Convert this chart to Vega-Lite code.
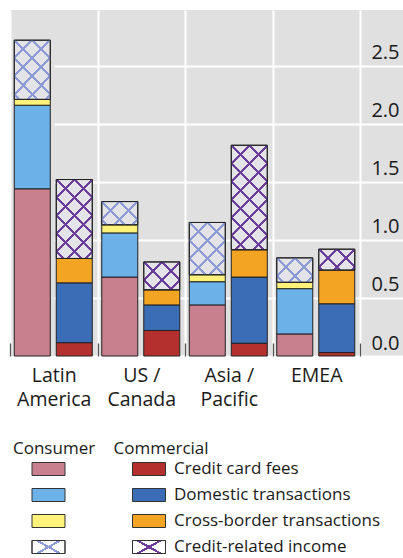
{
  "$schema": "https://vega.github.io/schema/vega-lite/v6.json",
  "padding": {"top": 10, "left": 9, "right": 0, "bottom": 2},
  "config": {"font": "Open Sans", "view": {"stroke": null}},
  "params": [
    {"name": "hatchLight", "value": [
      {"offset": 0, "color": "#8c9ad6"}, {"offset": 0.01, "color": "#8c9ad6"}, {"offset": 0.01, "color": "rgba(0,0,0,0)"},
      {"offset": 0.11, "color": "rgba(0,0,0,0)"}, {"offset": 0.11, "color": "#8c9ad6"}, {"offset": 0.13, "color": "#8c9ad6"}, {"offset": 0.13, "color": "rgba(0,0,0,0)"},
      {"offset": 0.23, "color": "rgba(0,0,0,0)"}, {"offset": 0.23, "color": "#8c9ad6"}, {"offset": 0.25, "color": "#8c9ad6"}, {"offset": 0.25, "color": "rgba(0,0,0,0)"},
      {"offset": 0.35, "color": "rgba(0,0,0,0)"}, {"offset": 0.35, "color": "#8c9ad6"}, {"offset": 0.37, "color": "#8c9ad6"}, {"offset": 0.37, "color": "rgba(0,0,0,0)"},
      {"offset": 0.47, "color": "rgba(0,0,0,0)"}, {"offset": 0.47, "color": "#8c9ad6"}, {"offset": 0.49, "color": "#8c9ad6"}, {"offset": 0.49, "color": "rgba(0,0,0,0)"},
      {"offset": 0.59, "color": "rgba(0,0,0,0)"}, {"offset": 0.59, "color": "#8c9ad6"}, {"offset": 0.61, "color": "#8c9ad6"}, {"offset": 0.61, "color": "rgba(0,0,0,0)"},
      {"offset": 0.71, "color": "rgba(0,0,0,0)"}, {"offset": 0.71, "color": "#8c9ad6"}, {"offset": 0.73, "color": "#8c9ad6"}, {"offset": 0.73, "color": "rgba(0,0,0,0)"},
      {"offset": 0.83, "color": "rgba(0,0,0,0)"}, {"offset": 0.83, "color": "#8c9ad6"}, {"offset": 0.85, "color": "#8c9ad6"}, {"offset": 0.85, "color": "rgba(0,0,0,0)"},
      {"offset": 0.95, "color": "rgba(0,0,0,0)"}, {"offset": 0.95, "color": "#8c9ad6"}, {"offset": 0.97, "color": "#8c9ad6"}, {"offset": 0.97, "color": "rgba(0,0,0,0)"},
      {"offset": 1, "color": "rgba(0,0,0,0)"}
    ]},
    {"name": "hatchDark", "value": [
      {"offset": 0, "color": "#6a3d9a"}, {"offset": 0.01, "color": "#6a3d9a"}, {"offset": 0.01, "color": "rgba(0,0,0,0)"},
      {"offset": 0.11, "color": "rgba(0,0,0,0)"}, {"offset": 0.11, "color": "#6a3d9a"}, {"offset": 0.13, "color": "#6a3d9a"}, {"offset": 0.13, "color": "rgba(0,0,0,0)"},
      {"offset": 0.23, "color": "rgba(0,0,0,0)"}, {"offset": 0.23, "color": "#6a3d9a"}, {"offset": 0.25, "color": "#6a3d9a"}, {"offset": 0.25, "color": "rgba(0,0,0,0)"},
      {"offset": 0.35, "color": "rgba(0,0,0,0)"}, {"offset": 0.35, "color": "#6a3d9a"}, {"offset": 0.37, "color": "#6a3d9a"}, {"offset": 0.37, "color": "rgba(0,0,0,0)"},
      {"offset": 0.47, "color": "rgba(0,0,0,0)"}, {"offset": 0.47, "color": "#6a3d9a"}, {"offset": 0.49, "color": "#6a3d9a"}, {"offset": 0.49, "color": "rgba(0,0,0,0)"},
      {"offset": 0.59, "color": "rgba(0,0,0,0)"}, {"offset": 0.59, "color": "#6a3d9a"}, {"offset": 0.61, "color": "#6a3d9a"}, {"offset": 0.61, "color": "rgba(0,0,0,0)"},
      {"offset": 0.71, "color": "rgba(0,0,0,0)"}, {"offset": 0.71, "color": "#6a3d9a"}, {"offset": 0.73, "color": "#6a3d9a"}, {"offset": 0.73, "color": "rgba(0,0,0,0)"},
      {"offset": 0.83, "color": "rgba(0,0,0,0)"}, {"offset": 0.83, "color": "#6a3d9a"}, {"offset": 0.85, "color": "#6a3d9a"}, {"offset": 0.85, "color": "rgba(0,0,0,0)"},
      {"offset": 0.95, "color": "rgba(0,0,0,0)"}, {"offset": 0.95, "color": "#6a3d9a"}, {"offset": 0.97, "color": "#6a3d9a"}, {"offset": 0.97, "color": "rgba(0,0,0,0)"},
      {"offset": 1, "color": "rgba(0,0,0,0)"}
    ]},
    {"name": "crossLight", "value": [
      {"offset": 0, "color": "rgba(0,0,0,0)"}, {"offset": 0.527, "color": "rgba(0,0,0,0)"},
      {"offset": 0.527, "color": "#8c9ad6"}, {"offset": 0.615, "color": "#8c9ad6"},
      {"offset": 0.615, "color": "rgba(0,0,0,0)"}, {"offset": 1, "color": "rgba(0,0,0,0)"}
    ]},
    {"name": "crossDark", "value": [
      {"offset": 0, "color": "rgba(0,0,0,0)"}, {"offset": 0.527, "color": "rgba(0,0,0,0)"},
      {"offset": 0.527, "color": "#6a3d9a"}, {"offset": 0.615, "color": "#6a3d9a"},
      {"offset": 0.615, "color": "rgba(0,0,0,0)"}, {"offset": 1, "color": "rgba(0,0,0,0)"}
    ]}
  ],
  "datasets": {
    "fees": [
      {"region": "Latin America", "segment": "Consumer", "type": "Credit card fees", "value": 1.44},
      {"region": "Latin America", "segment": "Consumer", "type": "Domestic transactions", "value": 0.72},
      {"region": "Latin America", "segment": "Consumer", "type": "Cross-border transactions", "value": 0.05},
      {"region": "Latin America", "segment": "Consumer", "type": "Credit-related income", "value": 0.51},
      {"region": "Latin America", "segment": "Commercial", "type": "Credit card fees", "value": 0.115},
      {"region": "Latin America", "segment": "Commercial", "type": "Domestic transactions", "value": 0.515},
      {"region": "Latin America", "segment": "Commercial", "type": "Cross-border transactions", "value": 0.21},
      {"region": "Latin America", "segment": "Commercial", "type": "Credit-related income", "value": 0.68},
      {"region": "US / Canada", "segment": "Consumer", "type": "Credit card fees", "value": 0.68},
      {"region": "US / Canada", "segment": "Consumer", "type": "Domestic transactions", "value": 0.38},
      {"region": "US / Canada", "segment": "Consumer", "type": "Cross-border transactions", "value": 0.07},
      {"region": "US / Canada", "segment": "Consumer", "type": "Credit-related income", "value": 0.2},
      {"region": "US / Canada", "segment": "Commercial", "type": "Credit card fees", "value": 0.22},
      {"region": "US / Canada", "segment": "Commercial", "type": "Domestic transactions", "value": 0.22},
      {"region": "US / Canada", "segment": "Commercial", "type": "Cross-border transactions", "value": 0.13},
      {"region": "US / Canada", "segment": "Commercial", "type": "Credit-related income", "value": 0.24},
      {"region": "Asia / Pacific", "segment": "Consumer", "type": "Credit card fees", "value": 0.44},
      {"region": "Asia / Pacific", "segment": "Consumer", "type": "Domestic transactions", "value": 0.2},
      {"region": "Asia / Pacific", "segment": "Consumer", "type": "Cross-border transactions", "value": 0.06},
      {"region": "Asia / Pacific", "segment": "Consumer", "type": "Credit-related income", "value": 0.45},
      {"region": "Asia / Pacific", "segment": "Commercial", "type": "Credit card fees", "value": 0.11},
      {"region": "Asia / Pacific", "segment": "Commercial", "type": "Domestic transactions", "value": 0.57},
      {"region": "Asia / Pacific", "segment": "Commercial", "type": "Cross-border transactions", "value": 0.235},
      {"region": "Asia / Pacific", "segment": "Commercial", "type": "Credit-related income", "value": 0.9},
      {"region": "EMEA", "segment": "Consumer", "type": "Credit card fees", "value": 0.19},
      {"region": "EMEA", "segment": "Consumer", "type": "Domestic transactions", "value": 0.39},
      {"region": "EMEA", "segment": "Consumer", "type": "Cross-border transactions", "value": 0.055},
      {"region": "EMEA", "segment": "Consumer", "type": "Credit-related income", "value": 0.21},
      {"region": "EMEA", "segment": "Commercial", "type": "Credit card fees", "value": 0.03},
      {"region": "EMEA", "segment": "Commercial", "type": "Domestic transactions", "value": 0.42},
      {"region": "EMEA", "segment": "Commercial", "type": "Cross-border transactions", "value": 0.29},
      {"region": "EMEA", "segment": "Commercial", "type": "Credit-related income", "value": 0.18}
    ],
    "legendItems": [
      {"segment": "Consumer", "type": "Credit card fees"},
      {"segment": "Consumer", "type": "Domestic transactions"},
      {"segment": "Consumer", "type": "Cross-border transactions"},
      {"segment": "Consumer", "type": "Credit-related income"},
      {"segment": "Commercial", "type": "Credit card fees"},
      {"segment": "Commercial", "type": "Domestic transactions"},
      {"segment": "Commercial", "type": "Cross-border transactions"},
      {"segment": "Commercial", "type": "Credit-related income"}
    ]
  },
  "resolve": {"scale": {"x": "independent", "y": "independent", "fill": "independent"}},
  "spacing": 30,
  "vconcat": [
    {
      "width": 394,
      "height": 346,
      "view": {"fill": "#e0e0e0", "stroke": null},
      "data": {"name": "fees"},
      "transform": [
        {"calculate": "indexof(['Credit card fees', 'Domestic transactions', 'Cross-border transactions', 'Credit-related income'], datum.type)", "as": "rank"},
        {"calculate": "datum.segment + '|' + datum.type", "as": "key"},
        {"stack": "value", "groupby": ["region", "segment"], "sort": [{"field": "rank", "order": "ascending"}], "as": ["v0", "v1"]}
      ],
      "encoding": {
        "x": {
          "field": "region", "type": "nominal",
          "sort": ["Latin America", "US / Canada", "Asia / Pacific", "EMEA"],
          "scale": {"range": [0, 350], "paddingInner": 0, "paddingOuter": 0},
          "axis": {
            "title": null, "domain": false, "labelAngle": 0,
            "tickBand": "extent", "tickSize": -13, "tickColor": "#555555", "tickWidth": 1.3,
            "grid": true, "gridColor": "#ffffff", "gridWidth": 2,
            "labelFont": "Open Sans", "labelFontSize": 19.5, "labelColor": "#1a1a1a",
            "labelBaseline": "top", "labelPadding": 23, "labelLineHeight": 24.5,
            "labelExpr": "lastindexof(datum.label, ' ') > 0 ? [slice(datum.label, 0, lastindexof(datum.label, ' ')), slice(datum.label, lastindexof(datum.label, ' ') + 1)] : datum.label"
          }
        },
        "xOffset": {
          "field": "segment", "type": "nominal", "sort": ["Consumer", "Commercial"],
          "scale": {"paddingInner": 0.143, "paddingOuter": 0.113, "align": 0.45}
        },
        "y": {
          "field": "v0", "type": "quantitative",
          "scale": {"domain": [0, 2.98], "nice": false, "zero": true},
          "axis": {
            "orient": "right", "title": null, "values": [0, 0.5, 1, 1.5, 2, 2.5], "format": ".1f",
            "domain": false, "ticks": false,
            "grid": true, "gridColor": "#ffffff", "gridWidth": 2,
            "labelAlign": "right", "labelPadding": -5, "labelBaseline": "alphabetic", "labelOffset": -7,
            "labelFont": "Open Sans", "labelFontSize": 20, "labelColor": "#1a1a1a"
          }
        },
        "y2": {"field": "v1"}
      },
      "layer": [
        {
          "mark": {"type": "bar", "stroke": "#222222", "strokeWidth": 1},
          "encoding": {
            "fill": {
              "field": "key", "type": "nominal", "legend": null,
              "scale": {
                "domain": [
                  "Consumer|Credit card fees", "Consumer|Domestic transactions", "Consumer|Cross-border transactions", "Consumer|Credit-related income",
                  "Commercial|Credit card fees", "Commercial|Domestic transactions", "Commercial|Cross-border transactions", "Commercial|Credit-related income"
                ],
                "range": ["#c8808f", "#6cb2e8", "#fff27a", "#e4e4e8", "#b3302f", "#3a6db5", "#f4a423", "#e4e4e8"]
              }
            }
          }
        },
        {
          "transform": [{"filter": "datum.type == 'Credit-related income'"}],
          "mark": {
            "type": "bar",
            "fill": {"expr": "{gradient: 'linear', x1: 0, y1: 0, x2: 5400 / (1296 + pow(116 * (datum.v1 - datum.v0), 2)), y2: 17400 * (datum.v1 - datum.v0) / (1296 + pow(116 * (datum.v1 - datum.v0), 2)), stops: datum.segment == 'Consumer' ? hatchLight : hatchDark}"}
          }
        },
        {
          "transform": [{"filter": "datum.type == 'Credit-related income'"}],
          "mark": {
            "type": "bar", "stroke": "#222222", "strokeWidth": 1,
            "fill": {"expr": "{gradient: 'linear', x1: 0, y1: ceil(116 * (datum.v1 - datum.v0) / 18) * 18 / (116 * (datum.v1 - datum.v0)), x2: 5400 / (1296 + pow(116 * (datum.v1 - datum.v0), 2)), y2: ceil(116 * (datum.v1 - datum.v0) / 18) * 18 / (116 * (datum.v1 - datum.v0)) - 17400 * (datum.v1 - datum.v0) / (1296 + pow(116 * (datum.v1 - datum.v0), 2)), stops: datum.segment == 'Consumer' ? hatchLight : hatchDark}"}
          }
        }
      ]
    },
    {
      "width": 300,
      "height": 78,
      "data": {"name": "legendItems"},
      "transform": [{"calculate": "datum.segment + '|' + datum.type", "as": "key"}],
      "encoding": {
        "x": {
          "field": "segment", "type": "nominal", "sort": ["Consumer", "Commercial"],
          "scale": {"type": "point", "range": [38.5, 139], "padding": 0},
          "axis": {
            "orient": "top", "title": null, "domain": false, "ticks": false, "tickSize": 0, "grid": false,
            "labelAngle": 0, "labelAlign": "left", "labelOffset": -36, "labelBaseline": "alphabetic", "labelPadding": 16,
            "labelFont": "Open Sans", "labelFontSize": 17, "labelColor": "#1a1a1a"
          }
        },
        "y": {
          "field": "type", "type": "nominal",
          "sort": ["Credit card fees", "Domestic transactions", "Cross-border transactions", "Credit-related income"],
          "scale": {"type": "point", "range": [0, 78], "padding": 0},
          "axis": null
        }
      },
      "layer": [
        {
          "mark": {"type": "rect", "width": 33, "height": 13, "stroke": "#333333", "strokeWidth": 1},
          "encoding": {
            "fill": {
              "field": "key", "type": "nominal", "legend": null,
              "scale": {
                "domain": [
                  "Consumer|Credit card fees", "Consumer|Domestic transactions", "Consumer|Cross-border transactions", "Consumer|Credit-related income",
                  "Commercial|Credit card fees", "Commercial|Domestic transactions", "Commercial|Cross-border transactions", "Commercial|Credit-related income"
                ],
                "range": ["#c8808f", "#6cb2e8", "#fff27a", "#ffffff", "#b3302f", "#3a6db5", "#f4a423", "#ffffff"]
              }
            }
          }
        },
        {
          "transform": [{"filter": "datum.type == 'Credit-related income'"}],
          "mark": {
            "type": "rect", "width": 33, "height": 13,
            "fill": {"expr": "{gradient: 'linear', x1: 0, y1: 0, x2: 1, y2: 0.697, stops: datum.segment == 'Consumer' ? crossLight : crossDark}"}
          }
        },
        {
          "transform": [{"filter": "datum.type == 'Credit-related income'"}],
          "mark": {
            "type": "rect", "width": 33, "height": 13, "stroke": "#333333", "strokeWidth": 1,
            "fill": {"expr": "{gradient: 'linear', x1: 0, y1: 1, x2: 1, y2: 0.303, stops: datum.segment == 'Consumer' ? crossLight : crossDark}"}
          }
        },
        {
          "transform": [{"filter": "datum.segment == 'Commercial'"}],
          "mark": {"type": "text", "align": "left", "baseline": "middle", "dx": 25, "font": "Open Sans", "fontSize": 17, "color": "#1a1a1a"},
          "encoding": {"text": {"field": "type"}}
        }
      ]
    }
  ]
}
